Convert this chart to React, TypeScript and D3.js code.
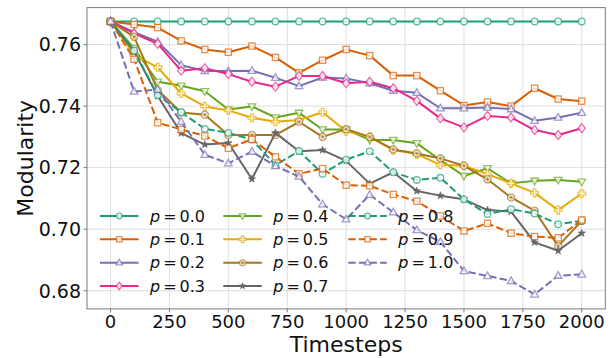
import * as d3 from 'd3';

const steps = d3.range(0, 2001, 100);
const pLabels = ['0.0', '0.1', '0.2', '0.3', '0.4', '0.5', '0.6', '0.7', '0.8', '0.9', '1.0'];

const p00 = [0.7675, 0.7675, 0.7675, 0.7675, 0.7675, 0.7675, 0.7675, 0.7675, 0.7675, 0.7675, 0.7675, 0.7675, 0.7675, 0.7675, 0.7675, 0.7675, 0.7675, 0.7675, 0.7675, 0.7675, 0.7675];
const p01 = [0.7675, 0.7665, 0.7655, 0.7612, 0.7584, 0.7575, 0.7595, 0.7558, 0.7508, 0.7549, 0.7584, 0.7564, 0.7499, 0.7499, 0.7450, 0.7402, 0.7413, 0.7400, 0.7458, 0.7423, 0.7416];
const p02 = [0.7675, 0.7640, 0.7609, 0.7533, 0.7514, 0.7514, 0.7515, 0.7492, 0.7465, 0.7493, 0.7490, 0.7474, 0.7450, 0.7443, 0.7393, 0.7393, 0.7395, 0.7390, 0.7352, 0.7363, 0.7378];
const p03 = [0.7675, 0.7636, 0.7602, 0.7515, 0.7523, 0.7504, 0.7479, 0.7463, 0.7498, 0.7498, 0.7474, 0.7479, 0.7458, 0.7417, 0.7360, 0.7331, 0.7368, 0.7363, 0.7322, 0.7306, 0.7328];
const p04 = [0.7675, 0.7588, 0.7479, 0.7466, 0.7448, 0.7389, 0.7399, 0.7363, 0.7378, 0.7324, 0.7324, 0.7290, 0.7290, 0.7279, 0.7225, 0.7173, 0.7198, 0.7149, 0.7157, 0.7160, 0.7154];
const p05 = [0.7675, 0.7566, 0.7526, 0.7441, 0.7399, 0.7386, 0.7362, 0.7349, 0.7355, 0.7380, 0.7318, 0.7300, 0.7257, 0.7244, 0.7209, 0.7206, 0.7179, 0.7149, 0.7118, 0.7062, 0.7116];
const p06 = [0.7675, 0.7625, 0.7452, 0.7379, 0.7372, 0.7306, 0.7306, 0.7306, 0.7349, 0.7300, 0.7325, 0.7300, 0.7259, 0.7246, 0.7230, 0.7206, 0.7162, 0.7103, 0.7060, 0.6945, 0.7027];
const p07 = [0.7675, 0.7577, 0.7433, 0.7312, 0.7275, 0.7280, 0.7163, 0.7313, 0.7253, 0.7257, 0.7222, 0.7148, 0.7185, 0.7124, 0.7109, 0.7097, 0.7062, 0.7057, 0.6957, 0.6930, 0.6987];
const p08 = [0.7675, 0.7580, 0.7435, 0.7380, 0.7326, 0.7313, 0.7291, 0.7208, 0.7254, 0.7180, 0.7226, 0.7253, 0.7185, 0.7160, 0.7167, 0.7097, 0.7049, 0.7065, 0.7051, 0.7016, 0.7027];
const p09 = [0.7675, 0.7552, 0.7346, 0.7324, 0.7303, 0.7263, 0.7292, 0.7235, 0.7180, 0.7197, 0.7143, 0.7141, 0.7113, 0.7091, 0.7043, 0.6994, 0.7019, 0.6987, 0.6976, 0.6972, 0.7030];
const p10 = [0.7675, 0.7447, 0.7454, 0.7349, 0.7242, 0.7214, 0.7252, 0.7205, 0.7171, 0.7081, 0.7032, 0.7112, 0.7055, 0.6997, 0.6959, 0.6864, 0.6848, 0.6832, 0.6788, 0.6849, 0.6853];

const seriesValues = [p00, p01, p02, p03, p04, p05, p06, p07, p08, p09, p10];
const colors = ['#1b9e77', '#d95f02', '#7570b3', '#e7298a', '#66a61e', '#e6ab02', '#a6761d', '#666666', '#1b9e77', '#d95f02', '#7570b3'];
const markers = ['circle', 'square', 'tri', 'diamond', 'tridown', 'plus', 'octa', 'star', 'circle', 'square', 'tri'];

const xTicks = d3.range(0, 2001, 250);
const yTicks = [0.68, 0.70, 0.72, 0.74, 0.76];

const W = 613;
const H = 358;
const left = 87, right = 605.3, top = 7.6, bottom = 308.9;
const FONT = 'DejaVu Sans, sans-serif';

function Marker({ kind, x, y, color, s = 1 }: { kind: string; x: number; y: number; color: string; s?: number }) {
  const common = { stroke: color, strokeWidth: 1.3, strokeOpacity: 0.7, fill: 'white', fillOpacity: 0.8 };
  switch (kind) {
    case 'circle':
      return <circle cx={x} cy={y} r={3.3 * s} {...common} />;
    case 'square': {
      const h = 3.1 * s;
      return <rect x={x - h} y={y - h} width={2 * h} height={2 * h} {...common} />;
    }
    case 'tri':
      return <path d={`M${x},${y - 4 * s}L${x + 3.8 * s},${y + 2.6 * s}L${x - 3.8 * s},${y + 2.6 * s}Z`} {...common} />;
    case 'tridown':
      return <path d={`M${x},${y + 4 * s}L${x + 3.8 * s},${y - 2.6 * s}L${x - 3.8 * s},${y - 2.6 * s}Z`} {...common} />;
    case 'diamond':
      return <path d={`M${x},${y - 4.4 * s}L${x + 3.6 * s},${y}L${x},${y + 4.4 * s}L${x - 3.6 * s},${y}Z`} {...common} />;
    case 'plus': {
      const a = 3.9 * s, b = 1.3 * s;
      return (
        <path
          d={`M${x - b},${y - a}H${x + b}V${y - b}H${x + a}V${y + b}H${x + b}V${y + a}H${x - b}V${y + b}H${x - a}V${y - b}H${x - b}Z`}
          {...common}
        />
      );
    }
    case 'octa': {
      const pts = d3.range(8).map(i => {
        const t = (Math.PI / 8) + (i * Math.PI) / 4;
        return [x + 3.7 * s * Math.cos(t), y + 3.7 * s * Math.sin(t)];
      });
      const c = 2.2 * s, d = 1.6 * s;
      return (
        <g>
          <path d={`M${pts.map(p => p.join(',')).join('L')}Z`} {...common} />
          <path d={`M${x - c},${y}H${x + c}M${x},${y - c}V${y + c}M${x - d},${y - d}L${x + d},${y + d}M${x - d},${y + d}L${x + d},${y - d}`} stroke={color} strokeWidth={0.8} strokeOpacity={0.75} />
        </g>
      );
    }
    case 'star': {
      const pts = d3.range(10).map(i => {
        const r = i % 2 === 0 ? 4 * s : 1.7 * s;
        const t = -Math.PI / 2 + (i * Math.PI) / 5;
        return [x + r * Math.cos(t), y + r * Math.sin(t)];
      });
      return <path d={`M${pts.map(p => p.join(',')).join('L')}Z`} fill={color} stroke={color} strokeWidth={0.5} />;
    }
    default:
      return null;
  }
}

export default function App() {
  const x = d3.scaleLinear().domain([-100, 2100]).range([left, right]);
  const y = d3.scaleLinear().domain([0.6741, 0.7720]).range([bottom, top]);
  const line = d3.line<number>().x((_, i) => x(steps[i])).y(d => y(d));

  // legend: 3 columns (4, 4, 3 rows)
  const legendCols = [100, 223.3, 348.3];
  const legendRows = [216, 239.3, 262.7, 286];
  const legendItems = pLabels.map((lab, i) => {
    const col = i < 4 ? 0 : i < 8 ? 1 : 2;
    const row = i < 4 ? i : i < 8 ? i - 4 : i - 8;
    return { lab, i, lx: legendCols[col], ly: legendRows[row] };
  });

  return (
    <svg width={W} height={H} style={{ position: 'absolute', left: 0, top: 0, background: 'white' }} fontFamily={FONT}>
      <rect x={0} y={0} width={W} height={H} fill="white" />
      {xTicks.map(t => (
        <line key={`gx${t}`} x1={x(t)} x2={x(t)} y1={top} y2={bottom} stroke="#dedede" strokeWidth={1} />
      ))}
      {yTicks.map(t => (
        <line key={`gy${t}`} x1={left} x2={right} y1={y(t)} y2={y(t)} stroke="#dedede" strokeWidth={1} />
      ))}

      {seriesValues.map((vals, si) => (
        <g key={`s${si}`}>
          <path
            d={line(vals) ?? ''}
            fill="none"
            stroke={colors[si]}
            strokeWidth={2}
            strokeDasharray={si >= 8 ? '7.4,3.2' : undefined}
            strokeLinejoin="round"
          />
          {vals.map((v, i) => (
            <Marker key={i} kind={markers[si]} x={x(steps[i])} y={y(v)} color={colors[si]} />
          ))}
        </g>
      ))}

      <rect x={left} y={top} width={right - left} height={bottom - top} fill="none" stroke="#7a7a7a" strokeWidth={1} />

      {xTicks.map(t => (
        <g key={`xt${t}`}>
          <line x1={x(t)} x2={x(t)} y1={bottom} y2={bottom + 3.5} stroke="#7a7a7a" />
          <text x={x(t)} y={328} textAnchor="middle" fontSize={18} fill="#111">{t}</text>
        </g>
      ))}
      <text x={(left + right) / 2} y={352} textAnchor="middle" fontSize={22} fill="#111">Timesteps</text>

      {yTicks.map(t => (
        <g key={`yt${t}`}>
          <line x1={left - 3.5} x2={left} y1={y(t)} y2={y(t)} stroke="#7a7a7a" />
          <text x={81} y={y(t)} dy="0.36em" textAnchor="end" fontSize={19} fill="#111">{t.toFixed(2)}</text>
        </g>
      ))}
      <text transform={`translate(33,${(top + bottom) / 2}) rotate(-90)`} textAnchor="middle" fontSize={22} fill="#111">Modularity</text>

      {legendItems.map(({ lab, i, lx, ly }) => (
        <g key={`lg${i}`}>
          <line x1={lx} x2={lx + 38.5} y1={ly} y2={ly} stroke={colors[i]} strokeWidth={2} strokeDasharray={i >= 8 ? '7.4,3.2' : undefined} />
          <Marker kind={markers[i]} x={lx + 19.25} y={ly} color={colors[i]} s={0.85} />
          <text x={lx + 50} y={ly} dy="0.36em" fontSize={16} fill="#111">
            <tspan fontStyle="italic">p</tspan>
            <tspan dx={3}>=</tspan>
            <tspan dx={3}>{lab}</tspan>
          </text>
        </g>
      ))}
    </svg>
  );
}
